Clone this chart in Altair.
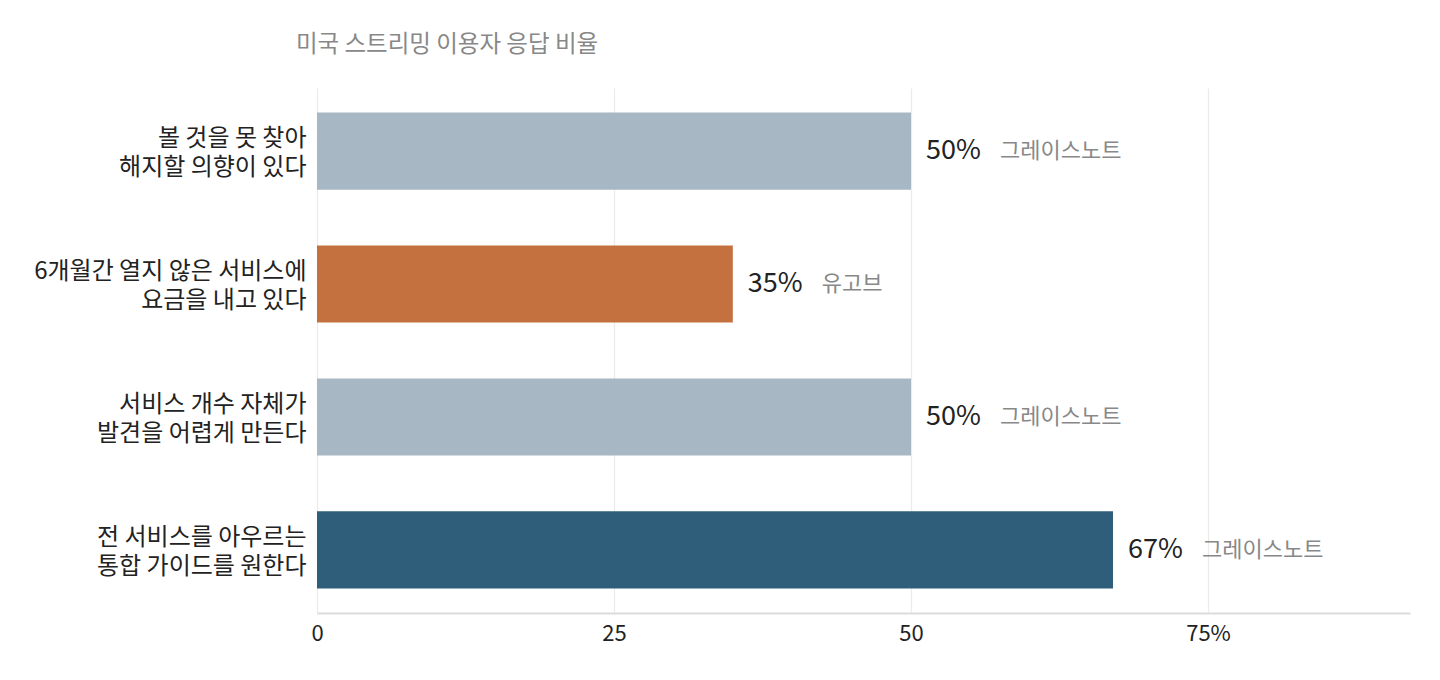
import altair as alt
import pandas as pd

categories = [
    "볼 것을 못 찾아\n해지할 의향이 있다",
    "6개월간 열지 않은 서비스에\n요금을 내고 있다",
    "서비스 개수 자체가\n발견을 어렵게 만든다",
    "전 서비스를 아우르는\n통합 가이드를 원한다",
]
values = [50, 35, 50, 67]
sources = ["그레이스노트", "유고브", "그레이스노트", "그레이스노트"]
bar_colors = ["#a8b7c4", "#c4713f", "#a8b7c4", "#2f5e7b"]
tick_values = [0, 25, 50, 75]

df = pd.DataFrame({
    "cat": categories,
    "value": values,
    "source": sources,
    "color": bar_colors,
    "label": [f"{v}%" for v in values],
})

FONT = "Noto Sans CJK KR"

y_enc = alt.Y("cat:N", sort=categories, title=None,
              scale=alt.Scale(paddingInner=0.42, paddingOuter=0.185),
              axis=alt.Axis(labelExpr="split(datum.label, '\\n')",
                            labelFontSize=24, labelColor="#222",
                            labelFont=FONT, labelLineHeight=29,
                            labelOffset=-12,
                            labelPadding=11, ticks=False, tickSize=0,
                            domain=False, grid=False, labelLimit=400))

x_scale = alt.Scale(domain=[0, 92], nice=False)

bars = alt.Chart(df).mark_bar().encode(
    x=alt.X("value:Q", scale=x_scale, title=None,
            axis=alt.Axis(values=tick_values,
                          labelExpr="datum.value == 75 ? '75%' : datum.label",
                          labelFontSize=22, labelColor="#222", labelFont=FONT,
                          labelFlush=False,
                          ticks=False, tickSize=0, labelPadding=10,
                          domainColor="#dcdcdc", domainWidth=2,
                          grid=True, gridColor="#ebebeb", gridWidth=1.2)),
    y=y_enc,
    color=alt.Color("color:N", scale=None, legend=None),
)

vlabels = alt.Chart(df).mark_text(align="left", baseline="middle", dx=15,
                                  fontSize=27, color="#222", font=FONT).encode(
    x=alt.X("value:Q", scale=x_scale),
    y=alt.Y("cat:N", sort=categories),
    text="label:N",
)

slabels = alt.Chart(df).mark_text(align="left", baseline="middle", dx=89,
                                  fontSize=22, color="#888", font=FONT).encode(
    x=alt.X("value:Q", scale=x_scale),
    y=alt.Y("cat:N", sort=categories),
    text="source:N",
)

chart = alt.layer(bars, vlabels, slabels).properties(
    width=1093, height=525,
    title=alt.TitleParams("미국 스트리밍 이용자 응답 비율", anchor="start",
                          frame="group",
                          fontSize=23.5, color="#888", font=FONT,
                          fontWeight="normal", dx=-21, offset=32),
    autosize=alt.AutoSizeParams(type="none"),
    padding={"left": 309, "top": 80, "right": 20, "bottom": 60},
).configure_view(stroke=None)

chart.save("out.html", embed_options={"renderer": "svg", "actions": False})
